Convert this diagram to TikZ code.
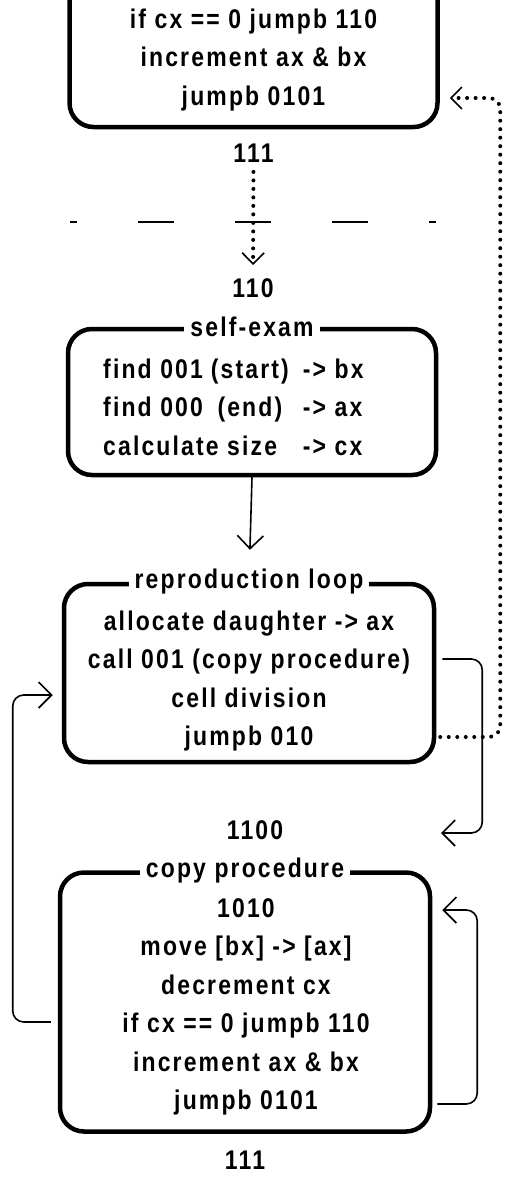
\documentclass[tikz,border=0pt]{standalone}
\usepackage{fontspec}
\setmainfont{Liberation Sans}[LetterSpace=8,FakeStretch=0.85]
\usetikzlibrary{arrows.meta,positioning}
\tikzset{
    box/.style ={
        shape=rectangle,
        rounded corners=24pt,
        draw=black,
        line width=4.5pt,
        minimum width=368pt,
        inner sep=0pt
    },
    txt/.style ={
        align=center,
        inner sep=0pt,
        font=\bfseries\fontsize{27}{38.5}\selectfont
    },
    title/.style ={
        fill=white,
        inner xsep=6pt,
        inner ysep=1pt,
        font=\bfseries\fontsize{27}{30}\selectfont
    },
    lbl/.style ={
        font=\bfseries\fontsize{27}{30}\selectfont
    },
    wire/.style ={
        draw=black,
        line width=1.6pt,
        rounded corners=11pt,
        -{Straight Barb[length=13pt,width=26pt,line width=1.6pt]}
    },
    dots/.style ={
        wire,
        line width=4pt,
        line cap=round,
        dash pattern=on 0pt off 8.5pt,
        -{Straight Barb[length=11pt,width=22pt,line width=1.6pt]}
    },
    cut/.style ={
        draw=black,
        line width=1.6pt,
        dash pattern=on 36pt off 61pt,
        dash phase=29pt
    }
}

\begin{document}
\begin{tikzpicture}[x=1pt,y=-1pt]
    \useasboundingbox (0,0) rectangle (505,1178);

    % end of the mother's copy procedure
    \node[box,minimum height=167pt] (prevcopy) at (253.5,43.5) {};
    \node[txt] at (253.5,60) {if cx == 0 jumpb 110\\increment ax \& bx\\jumpb 0101};
    \node[lbl,below=11pt of prevcopy] (endprev) {111};
    \draw[cut] (70,222) -- (436,222);
    \node[lbl] (begin) at (253,288) {110};

    % self-exam
    \node[box,minimum width=368pt,minimum height=146pt] (exam) at (252,402) {};
    \node[title] at (exam.north) {self-exam};
    \node[txt,anchor=west] at (103,409) {\begin{tabular}{@{}l@{\hspace{8pt}}c@{\hspace{14pt}}l@{}}
        find 001 & (start) & -> bx\\
        find 000 & (end) & -> ax\\
        \multicolumn{2}{@{}l}{calculate size} & -> cx
    \end{tabular}};

    % reproduction loop
    \node[box,minimum width=370pt,minimum height=178pt] (loop) at (249,673) {};
    \node[title] at (loop.north) {reproduction loop};
    \node[txt] at (249,681) {allocate daughter -> ax\\call 001 (copy procedure)\\cell division\\jumpb 010};
    \node[lbl] (ret) at (255,830) {1100};

    % copy procedure
    \node[box,minimum width=370pt,minimum height=259pt] (copy) at (245,1002) {};
    \node[title] at (copy.north) {copy procedure};
    \node[txt] at (246,1007) {1010\\move [bx] -> [ax]\\decrement cx\\if cx == 0 jumpb 110\\increment ax \& bx\\jumpb 0101};
    \node[lbl,below=14pt of copy] (end) {111};

    \coordinate (callret) at (441,833);

    \draw[dots,shorten <=6pt,shorten >=10pt] (endprev) -- (begin);
    \draw[wire,shorten >=32pt] (exam.south) -- (loop.north);
    \draw[wire] ([xshift=6pt,yshift=14pt]loop.east) -- ++(40pt,0) |- (callret);
    \draw[wire] ([xshift=-7pt,yshift=-20pt]copy.west) -- ++(-38pt,0) |- ([xshift=-9pt,yshift=-22pt]loop.west);
    \draw[wire] ([xshift=5pt,yshift=-102pt]copy.east) -- ++(40pt,0) |- ([xshift=10pt,yshift=92pt]copy.east);
    \draw[dots] ([xshift=4pt,yshift=-64pt]loop.east) -- ++(60pt,0) |- ([xshift=10pt,yshift=-54.5pt]prevcopy.east);
\end{tikzpicture}
\end{document}
